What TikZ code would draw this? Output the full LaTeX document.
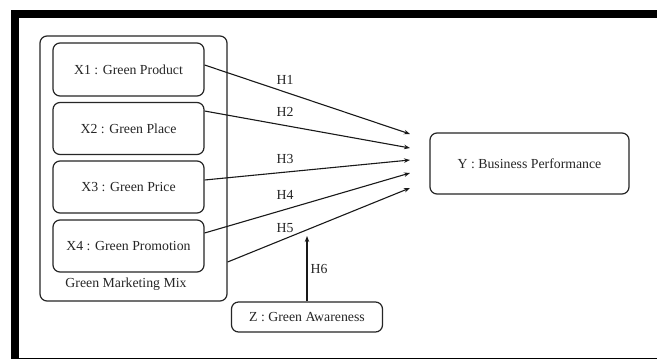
\documentclass[tikz,border=0pt]{standalone}
\usepackage{fontspec}
\setmainfont{Liberation Serif}
\usetikzlibrary{arrows.meta}
\begin{document}
\begin{tikzpicture}[x=1bp,y=-1bp,
  box/.style={draw=black!85,line width=1.2bp,rounded corners=7bp,inner sep=0pt,font=\fontsize{13.8bp}{15bp}\selectfont,text=black!85},
  lbl/.style={inner sep=0pt,font=\fontsize{13.8bp}{15bp}\selectfont,text=black!85},
  conn/.style={draw=black!90,line width=1.1bp,-{Stealth[length=6bp,width=4.5bp]}}]
\useasboundingbox (0,0) rectangle (657,360);
\fill[white] (0,0) rectangle (657,360);
% frame
\fill[black] (11,10) rectangle (657,18);
\fill[black] (11,10) rectangle (19,359);
\draw[black,line width=1.5bp] (19,358.5) -- (657,358.5);
% group
\node[box,minimum width=187bp,minimum height=265bp] (G) at (133.5,168.5) {};
\node[box,minimum width=151bp,minimum height=53bp] (X1) at (128.5,69.5) {X1 : Green Product};
\node[box,minimum width=151bp,minimum height=52bp] (X2) at (128.5,128.5) {X2 : Green Place};
\node[box,minimum width=151bp,minimum height=52bp] (X3) at (128.5,187) {X3 : Green Price};
\node[box,minimum width=151bp,minimum height=52bp] (X4) at (128.5,246) {X4 : Green Promotion};
\node[lbl] (GL) at (126,284) {Green Marketing Mix};
\node[box,minimum width=199bp,minimum height=61bp] (Y) at (529.5,163.5) {Y : Business Performance};
\node[box,minimum width=151bp,minimum height=30bp] (Z) at (307,317) {Z : Green Awareness};
% tips
\coordinate (t1) at (410,134);
\coordinate (t2) at (410,148);
\coordinate (t3) at (410,160);
\coordinate (t4) at (410,173);
\coordinate (t5) at (410,188);
\coordinate (t6) at (307,236);
\draw[conn] ([yshift=4.5bp]X1.east) -- (t1);
\draw[conn] ([yshift=17.5bp]X2.east) -- (t2);
\draw[conn] ([yshift=7bp]X3.east) -- (t3);
\draw[conn] ([yshift=13bp]X4.east) -- (t4);
\draw[conn] ([yshift=-93.5bp]G.east) -- (t5);
\draw[conn] (Z.north) -- (t6);
\node[lbl] (H1) at (285,80) {H1};
\node[lbl] (H2) at (285,112) {H2};
\node[lbl] (H3) at (285,159) {H3};
\node[lbl] (H4) at (285,195) {H4};
\node[lbl] (H5) at (285,228) {H5};
\node[lbl] (H6) at (319,269) {H6};
\end{tikzpicture}
\end{document}
